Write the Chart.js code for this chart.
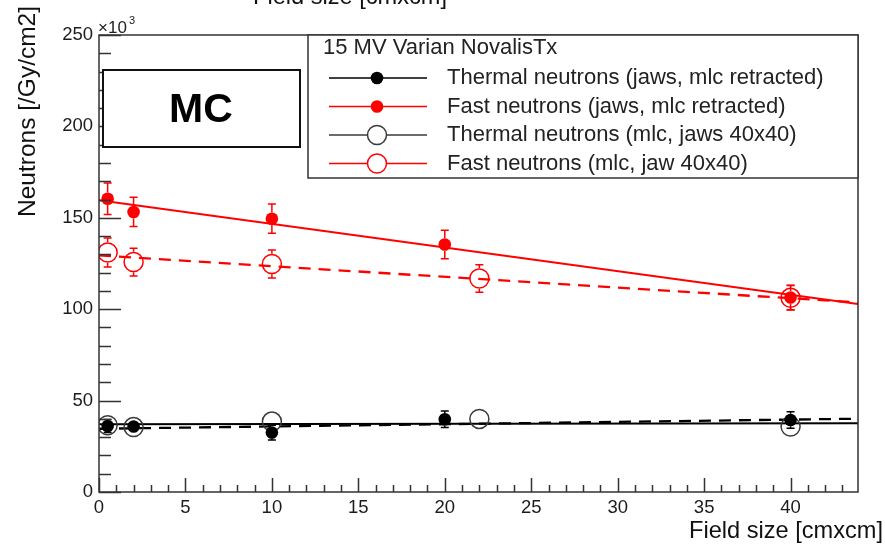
<!DOCTYPE html>
<html><head><meta charset="utf-8">
<script src="https://cdn.jsdelivr.net/npm/chart.js@4.4.1/dist/chart.umd.min.js"></script>
<style>html,body{margin:0;padding:0;background:#fff}canvas{display:block}</style>
</head><body>
<canvas id="c" width="885" height="545"></canvas>
<script>
const FONT = '"Liberation Sans", Arial, sans-serif';

// Axis ticks
const xTickValues = [0, 5, 10, 15, 20, 25, 30, 35, 40];
const yTickValues = [0, 50, 100, 150, 200, 250];
const xRange = [0, 43.9];
const yRange = [0, 250];

// Series: jaws, mlc retracted
const fieldJaws = [0.5, 2, 10, 20, 40];
const thermalJaws = [36.1, 35.8, 32.5, 39.8, 39.4];
const thermalJawsErr = [3.5, 3.0, 4.0, 4.5, 4.5];
const fastJaws = [160.4, 153.2, 149.5, 135.4, 106.4];
const fastJawsErr = [8.6, 8.0, 8.0, 7.8, 6.7];

// Series: mlc, jaws 40x40
const fieldMlc = [0.5, 2, 10, 22, 40];
const thermalMlc = [36.5, 35.5, 38.5, 40.0, 35.8];
const thermalMlcErr = [3.0, 3.0, 3.0, 3.5, 3.5];
const fastMlc = [131.0, 125.8, 124.7, 116.8, 106.2];
const fastMlcErr = [7.9, 7.6, 7.7, 7.5, 6.7];

// Linear fits (end points)
const fitX = [0, 43.9];
const fitThermalJaws = [37.1, 37.6];
const fitFastJaws = [159.6, 102.8];
const fitThermalMlc = [34.6, 40.1];
const fitFastMlc = [129.4, 103.7];

const legendTitle = '15 MV Varian NovalisTx';
const legendLabels = [
  'Thermal neutrons (jaws, mlc retracted)',
  'Fast neutrons (jaws, mlc retracted)',
  'Thermal neutrons (mlc, jaws 40x40)',
  'Fast neutrons (mlc, jaw 40x40)'
];

const pts = (xs, ys) => xs.map((x, i) => ({x, y: ys[i]}));

function markerSet(label, xs, ys, errs, color, open) {
  return {
    label, data: pts(xs, ys), errors: errs, showLine: false,
    pointRadius: open ? 9.5 : 6.3,
    pointHoverRadius: open ? 9.5 : 6.3,
    pointBackgroundColor: open ? 'rgba(0,0,0,0)' : color,
    pointBorderColor: color,
    pointBorderWidth: open ? 1.5 : 0,
    borderColor: color, backgroundColor: color,
    open
  };
}
function fitSet(ys, color, dashed) {
  return {
    label: 'fit', data: pts(fitX, ys), showLine: true, pointRadius: 0,
    borderColor: color, borderWidth: dashed ? 2.3 : 2, borderDash: dashed ? [12, 8] : [],
    fill: false, tension: 0
  };
}

const errorBars = {
  id: 'errorBars',
  afterDatasetsDraw(chart) {
    const {ctx, scales: {y}} = chart;
    chart.data.datasets.forEach((ds, i) => {
      if (!ds.errors) return;
      const meta = chart.getDatasetMeta(i);
      ctx.save();
      ctx.strokeStyle = ds.borderColor;
      ctx.lineWidth = 1.5;
      meta.data.forEach((el, j) => {
        const v = ds.data[j].y, e = ds.errors[j];
        const top = y.getPixelForValue(v + e), bot = y.getPixelForValue(v - e);
        const r = ds.pointRadius + (ds.open ? 0.75 : 0);
        ctx.beginPath();
        if (el.y - top > r) {
          ctx.moveTo(el.x, el.y - r); ctx.lineTo(el.x, top);
          ctx.moveTo(el.x - 4, top); ctx.lineTo(el.x + 4, top);
        }
        if (bot - el.y > r) {
          ctx.moveTo(el.x, el.y + r); ctx.lineTo(el.x, bot);
          ctx.moveTo(el.x - 4, bot); ctx.lineTo(el.x + 4, bot);
        }
        ctx.stroke();
      });
      ctx.restore();
    });
  }
};

const decor = {
  id: 'decor',
  afterDraw(chart) {
    const {ctx, chartArea: a, scales: {x, y}} = chart;
    ctx.save();
    // ticks inside frame
    ctx.strokeStyle = '#333';
    ctx.lineWidth = 1.5;
    ctx.beginPath();
    for (let v = yRange[0]; v <= yRange[1]; v += 10) {
      const py = Math.round(y.getPixelForValue(v)) + 0.5;
      const len = v % 50 === 0 ? 22 : 12;
      ctx.moveTo(a.left, py); ctx.lineTo(a.left + len, py);
    }
    for (let v = 0; v <= xRange[1]; v += 1) {
      const px = Math.round(x.getPixelForValue(v)) + 0.5;
      const len = v % 5 === 0 ? 14 : 7;
      ctx.moveTo(px, a.bottom); ctx.lineTo(px, a.bottom - len);
    }
    ctx.stroke();
    ctx.strokeRect(a.left, a.top, a.right - a.left, a.bottom - a.top);

    // exponent
    ctx.fillStyle = '#222';
    ctx.textBaseline = 'alphabetic';
    ctx.textAlign = 'left';
    ctx.font = '17px ' + FONT;
    ctx.fillText('\u00d710', 98, 33);
    ctx.font = '11px ' + FONT;
    ctx.fillText('3', 129, 24);

    // axis titles
    ctx.fillStyle = '#111';
    ctx.font = '23.6px ' + FONT;
    ctx.textAlign = 'right';
    ctx.fillText('Field size [cmxcm]', 883, 538);
    ctx.textAlign = 'left';
    ctx.fillText('Field size [cmxcm]', 253, 4);
    ctx.save();
    ctx.translate(35, 217);
    ctx.rotate(-Math.PI / 2);
    ctx.font = '24.5px ' + FONT;
    ctx.textAlign = 'left';
    ctx.fillText('Neutrons [/Gy/cm2]', 0, 0);
    ctx.restore();

    // MC box
    ctx.fillStyle = '#fff';
    ctx.fillRect(103, 70, 197, 77);
    ctx.strokeStyle = '#111';
    ctx.lineWidth = 2;
    ctx.strokeRect(103, 70, 197, 77);
    ctx.fillStyle = '#000';
    ctx.font = 'bold 41px ' + FONT;
    ctx.textAlign = 'center';
    ctx.textBaseline = 'middle';
    ctx.fillText('MC', 201, 111);

    // legend
    const L = 308, T = 35, R = 858, B = 178;
    ctx.fillStyle = '#fff';
    ctx.fillRect(L, T, R - L, B - T);
    ctx.strokeStyle = '#333';
    ctx.lineWidth = 1.5;
    ctx.strokeRect(L, T, R - L, B - T);
    ctx.fillStyle = '#222';
    ctx.font = '22px ' + FONT;
    ctx.textAlign = 'left';
    ctx.textBaseline = 'middle';
    ctx.fillText(legendTitle, 323, 48);
    const markerSets = chart.data.datasets.filter(d => d.errors);
    const rows = [78, 106.5, 135, 163.5];
    markerSets.forEach((ds, i) => {
      const yy = rows[i];
      ctx.strokeStyle = ds.borderColor;
      ctx.lineWidth = 1.5;
      ctx.beginPath(); ctx.moveTo(329, yy); ctx.lineTo(427, yy); ctx.stroke();
      ctx.beginPath();
      ctx.arc(377, yy, ds.pointRadius, 0, Math.PI * 2);
      if (ds.open) { ctx.fillStyle = '#fff'; ctx.fill(); ctx.stroke(); }
      else { ctx.fillStyle = ds.borderColor; ctx.fill(); }
      ctx.fillStyle = '#222';
      ctx.fillText(legendLabels[i], 447, yy);
    });
    ctx.restore();
  }
};

new Chart(document.getElementById('c'), {
  type: 'scatter',
  data: {
    datasets: [
      markerSet(legendLabels[0], fieldJaws, thermalJaws, thermalJawsErr, '#000000', false),
      markerSet(legendLabels[1], fieldJaws, fastJaws, fastJawsErr, '#ff0000', false),
      markerSet(legendLabels[2], fieldMlc, thermalMlc, thermalMlcErr, '#3a3a3a', true),
      markerSet(legendLabels[3], fieldMlc, fastMlc, fastMlcErr, '#ff0000', true),
      fitSet(fitThermalJaws, '#000000', false),
      fitSet(fitFastJaws, '#ff0000', false),
      fitSet(fitThermalMlc, '#000000', true),
      fitSet(fitFastMlc, '#ff0000', true)
    ]
  },
  options: {
    responsive: false,
    animation: false,
    devicePixelRatio: 1,
    layout: {padding: {left: 0, top: 35, right: 27, bottom: 0}},
    plugins: {legend: {display: false}, tooltip: {enabled: false}},
    scales: {
      x: {
        type: 'linear', min: xRange[0], max: xRange[1],
        grid: {display: false, drawTicks: false, tickLength: 0},
        border: {display: false},
        afterBuildTicks: s => { s.ticks = xTickValues.map(v => ({value: v})); },
        afterFit: s => { s.height = 53; },
        ticks: {font: {family: FONT, size: 18.5}, color: '#1c1c1c', padding: 5, maxRotation: 0}
      },
      y: {
        type: 'linear', min: yRange[0], max: yRange[1],
        grid: {display: false, drawTicks: false, tickLength: 0},
        border: {display: false},
        afterBuildTicks: s => { s.ticks = yTickValues.map(v => ({value: v})); },
        afterFit: s => { s.width = 99; },
        ticks: {font: {family: FONT, size: 18.5}, color: '#1c1c1c', padding: 6}
      }
    }
  },
  plugins: [errorBars, decor]
});
</script>
</body></html>
